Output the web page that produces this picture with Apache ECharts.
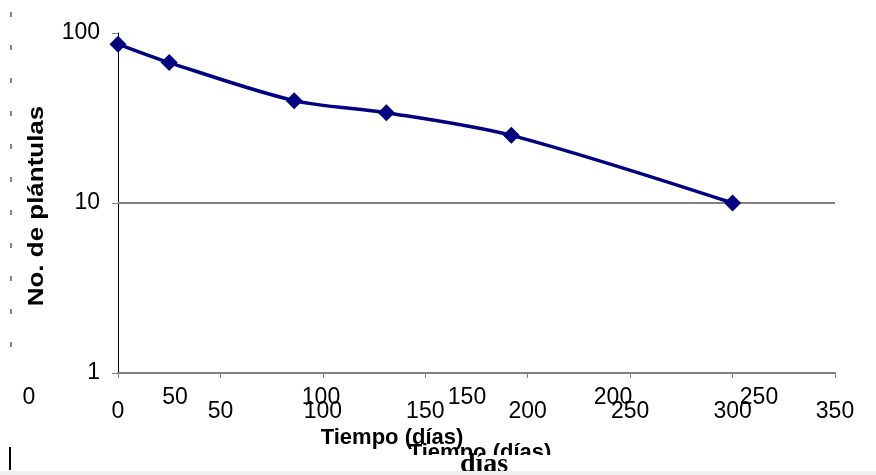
<!DOCTYPE html>
<html>
<head>
<meta charset="utf-8">
<script src="https://cdn.jsdelivr.net/npm/echarts@6/dist/echarts.min.js"></script>
<style>html,body{margin:0;padding:0;background:#fff;}#c{width:876px;height:475px;}</style>
</head>
<body>
<div id="c"></div>
<script>
// Data
const days = [0, 25, 86, 131, 192, 300];
const plantulas = [86, 67, 40, 34, 25, 10];
const xTitle = 'Tiempo (días)';
const yTitle = 'No. de plántulas';
const extraLabel = 'días';
const gridValue = 10;

const points = days.map((d, i) => [d, plantulas[i]]);
const FONT = 'Liberation Sans, Arial, sans-serif';

const chart = echarts.init(document.getElementById('c'), null, {renderer: 'canvas'});
chart.setOption({
  animation: false,
  backgroundColor: '#ffffff',
  grid: [
    {left: 118, right: 41, top: 33, bottom: 102, containLabel: false},
    {left: 29, width: 730, top: 33, bottom: 102, containLabel: false}
  ],
  xAxis: [
    {
      type: 'value', gridIndex: 0, min: 0, max: 350, interval: 50,
      axisLine: {show: true, onZero: false, lineStyle: {color: '#808080', width: 2}},
      axisTick: {show: true, length: 5, lineStyle: {color: '#808080', width: 1}},
      axisLabel: {color: '#000', fontFamily: FONT, fontSize: 23, margin: 27},
      splitLine: {show: false}
    },
    {
      type: 'value', gridIndex: 1, min: 0, max: 250, interval: 50,
      axisLine: {show: false}, axisTick: {show: false},
      axisLabel: {color: '#000', fontFamily: FONT, fontSize: 23, margin: 13},
      splitLine: {show: false}
    }
  ],
  yAxis: [
    {
      type: 'log', gridIndex: 0, logBase: 10, min: 1, max: 100,
      axisLine: {show: true, lineStyle: {color: '#000', width: 1}},
      axisTick: {show: true, length: 6, lineStyle: {color: '#808080', width: 1}},
      axisLabel: {color: '#000', fontFamily: FONT, fontSize: 23, margin: 18},
      splitLine: {show: false}
    },
    {
      type: 'value', gridIndex: 1, min: 0, max: 1, show: false
    }
  ],
  series: [{
    type: 'line',
    xAxisIndex: 0, yAxisIndex: 0,
    data: points,
    smooth: 0.3,
    symbol: 'diamond',
    symbolSize: 17,
    lineStyle: {color: '#000080', width: 3.5},
    itemStyle: {color: '#000080'},
    z: 5,
    markLine: {
      silent: true, symbol: 'none', label: {show: false},
      lineStyle: {color: '#808080', width: 2, type: 'solid'},
      data: [{yAxis: gridValue}],
      z: 1
    }
  }],
  graphic: [
    {type: 'text', z: 100, x: 37, y: 206, rotation: Math.PI / 2, scaleX: 1.18,
     style: {text: yTitle, font: 'bold 22px ' + FONT, fill: '#000', textAlign: 'center', textVerticalAlign: 'middle'}},
    {type: 'text', z: 100, x: 392, y: 438,
     style: {text: xTitle, font: 'bold 22px ' + FONT, fill: '#000', textAlign: 'center', textVerticalAlign: 'middle'}},
    {type: 'text', z: 99, x: 480, y: 453,
     style: {text: xTitle, font: 'bold 22px ' + FONT, fill: '#000', textAlign: 'center', textVerticalAlign: 'middle'}},
    {type: 'rect', z: 101, shape: {x: 400, y: 455, width: 170, height: 16}, style: {fill: '#ffffff'}},
    {type: 'text', z: 102, x: 484, y: 451,
     style: {text: extraLabel, font: 'bold 28px "Liberation Serif", "Times New Roman", serif', fill: '#000', textAlign: 'center', textVerticalAlign: 'top'}},
    {type: 'rect', z: 103, shape: {x: 0, y: 471, width: 876, height: 4}, style: {fill: '#f0f0f0'}},
    {type: 'rect', z: 103, shape: {x: 9, y: 447, width: 2, height: 23}, style: {fill: '#000'}},
    {type: 'line', z: 103, shape: {x1: 11, y1: 12, x2: 11, y2: 370},
     style: {stroke: '#333', lineWidth: 1.2, lineDash: [5, 28]}}
  ]
});
</script>
</body>
</html>
